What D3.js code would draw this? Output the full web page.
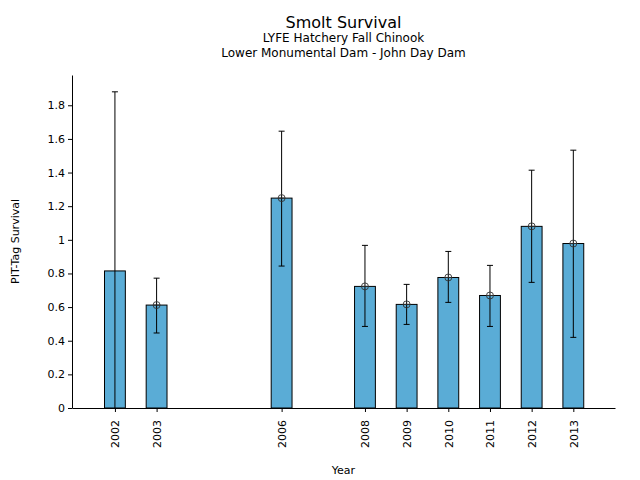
<!DOCTYPE html>
<html>
<head>
<meta charset="utf-8">
<script src="https://cdn.jsdelivr.net/npm/d3@7"></script>
<style>
  body { margin: 0; background: #fff; }
  text { font-family: "DejaVu Sans", sans-serif; }
</style>
</head>
<body>
<svg id="chart" width="640" height="480"></svg>
<script>
const years = [2002, 2003, 2006, 2008, 2009, 2010, 2011, 2012, 2013];
const survival = [0.815, 0.612, 1.248, 0.723, 0.616, 0.776, 0.669, 1.080, 0.978];
const upper = [1.88, 0.772, 1.646, 0.967, 0.735, 0.931, 0.848, 1.414, 1.533];
const lower = [0, 0.446, 0.844, 0.485, 0.497, 0.628, 0.485, 0.747, 0.42];
const showPoint = [false, true, true, true, true, true, true, true, true];
const yTicks = [0, 0.2, 0.4, 0.6, 0.8, 1, 1.2, 1.4, 1.6, 1.8];

const margin = { top: 75, left: 72, bottom: 72, right: 25 };
const width = 640;
const height = 480;
const chartWidth = width - margin.left - margin.right;
const chartHeight = height - margin.top - margin.bottom;

const svg = d3.select('#chart');
const g = svg.append('g')
    .attr('transform', `translate(${margin.left},${margin.top})`);

const x = d3.scaleLinear()
    .domain([2000.97, 2014])
    .range([0, chartWidth]);

const y = d3.scaleLinear()
    .domain([0, 1.98])
    .range([chartHeight, 0]);

const barWidth = x(2000.97 + 0.5) - x(2000.97);
const data = years.map((year, i) => ({
    year,
    value: survival[i],
    hi: upper[i],
    lo: lower[i],
    point: showPoint[i]
}));

g.selectAll('rect.bar')
    .data(data)
    .enter()
    .append('rect')
    .attr('class', 'bar')
    .attr('x', d => x(d.year) - barWidth / 2)
    .attr('y', d => y(d.value))
    .attr('width', barWidth)
    .attr('height', d => chartHeight - y(d.value))
    .attr('fill', '#5aacd6')
    .attr('stroke', '#000')
    .attr('stroke-width', 1);

const err = g.selectAll('g.err')
    .data(data)
    .enter()
    .append('g')
    .attr('class', 'err');

err.append('line')
    .attr('x1', d => x(d.year))
    .attr('x2', d => x(d.year))
    .attr('y1', d => y(d.lo))
    .attr('y2', d => y(d.hi))
    .attr('stroke', '#000')
    .attr('stroke-width', 1);

err.append('line')
    .attr('x1', d => x(d.year) - 3)
    .attr('x2', d => x(d.year) + 3)
    .attr('y1', d => y(d.hi))
    .attr('y2', d => y(d.hi))
    .attr('stroke', '#000');

err.filter(d => d.lo > 0)
    .append('line')
    .attr('x1', d => x(d.year) - 3)
    .attr('x2', d => x(d.year) + 3)
    .attr('y1', d => y(d.lo))
    .attr('y2', d => y(d.lo))
    .attr('stroke', '#000');

const pts = err.filter(d => d.point);
pts.append('circle')
    .attr('cx', d => x(d.year))
    .attr('cy', d => y(d.value))
    .attr('r', 3.5)
    .attr('fill', 'none')
    .attr('stroke', '#333')
    .attr('stroke-width', 0.9);
pts.append('line')
    .attr('x1', d => x(d.year) - 3.5)
    .attr('x2', d => x(d.year) + 3.5)
    .attr('y1', d => y(d.value))
    .attr('y2', d => y(d.value))
    .attr('stroke', '#333')
    .attr('stroke-width', 0.9);

const yAxe = d3.axisLeft(y)
    .tickValues(yTicks)
    .tickFormat(d => String(d))
    .tickSize(4)
    .tickSizeOuter(0);

const xAxe = d3.axisBottom(x)
    .tickValues(years)
    .tickFormat(d => String(d))
    .tickSize(4)
    .tickSizeOuter(0);

g.append('g')
    .call(yAxe)
    .call(a => a.selectAll('text').attr('font-size', 11).attr('fill', '#000').attr('font-family', 'DejaVu Sans'))
    .call(a => a.selectAll('line, path').attr('stroke', '#000'));

g.append('g')
    .attr('transform', `translate(0,${chartHeight})`)
    .call(xAxe)
    .call(a => a.selectAll('line, path').attr('stroke', '#000'))
    .selectAll('text')
    .attr('font-size', 11)
    .attr('fill', '#000')
    .attr('font-family', 'DejaVu Sans')
    .attr('text-anchor', 'end')
    .attr('dy', '0.35em')
    .attr('transform', 'translate(0,12) rotate(-90)')
    .attr('x', 0)
    .attr('y', 0);

const cx = margin.left + chartWidth / 2;
svg.append('text')
    .attr('x', cx).attr('y', 28)
    .attr('text-anchor', 'middle')
    .attr('font-size', 16)
    .text('Smolt Survival');
svg.append('text')
    .attr('x', cx).attr('y', 42)
    .attr('text-anchor', 'middle')
    .attr('font-size', 12)
    .text('LYFE Hatchery Fall Chinook');
svg.append('text')
    .attr('x', cx).attr('y', 57)
    .attr('text-anchor', 'middle')
    .attr('font-size', 12)
    .text('Lower Monumental Dam - John Day Dam');

svg.append('text')
    .attr('x', cx).attr('y', 474)
    .attr('text-anchor', 'middle')
    .attr('font-size', 11)
    .text('Year');

svg.append('text')
    .attr('transform', `translate(19,${margin.top + chartHeight / 2}) rotate(-90)`)
    .attr('text-anchor', 'middle')
    .attr('font-size', 11)
    .text('PIT-Tag Survival');
</script>
</body>
</html>
